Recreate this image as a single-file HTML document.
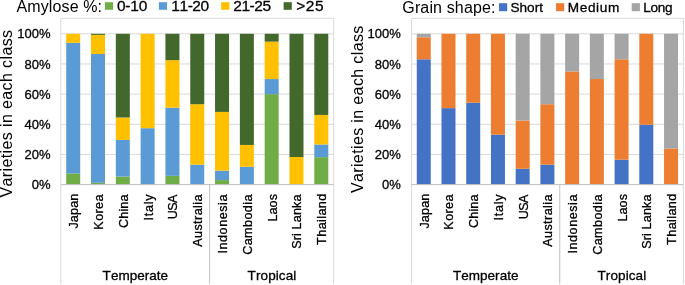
<!DOCTYPE html>
<html><head><meta charset="utf-8"><style>
html,body{margin:0;padding:0;background:#fff;}
body{width:685px;height:285px;overflow:hidden;}
svg{display:block;font-family:"Liberation Sans", sans-serif;font-kerning:none;will-change:transform;}
text{stroke:#000;stroke-width:0.3px;}
text.a{stroke:none;}
</style></head><body>
<svg width="685" height="285" viewBox="0 0 685 285">
<rect width="685" height="285" fill="#fff"/>
<line x1="60.8" y1="154.44" x2="333.7" y2="154.44" stroke="#D9D9D9" stroke-width="1"/>
<line x1="60.8" y1="124.28" x2="333.7" y2="124.28" stroke="#D9D9D9" stroke-width="1"/>
<line x1="60.8" y1="94.12" x2="333.7" y2="94.12" stroke="#D9D9D9" stroke-width="1"/>
<line x1="60.8" y1="63.96" x2="333.7" y2="63.96" stroke="#D9D9D9" stroke-width="1"/>
<line x1="60.8" y1="33.80" x2="333.7" y2="33.80" stroke="#D9D9D9" stroke-width="1"/>
<line x1="60.8" y1="18.4" x2="333.7" y2="18.4" stroke="#D9D9D9" stroke-width="1"/>
<line x1="60.8" y1="18.4" x2="60.8" y2="284" stroke="#D9D9D9" stroke-width="1"/>
<line x1="333.7" y1="18.4" x2="333.7" y2="284" stroke="#D9D9D9" stroke-width="1"/>
<rect x="66.20" y="173.44" width="14.0" height="11.16" fill="#70AD47"/>
<rect x="66.20" y="42.85" width="14.0" height="130.59" fill="#5B9BD5"/>
<rect x="66.20" y="33.80" width="14.0" height="9.05" fill="#FFC000"/>
<rect x="91.01" y="182.79" width="14.0" height="1.81" fill="#70AD47"/>
<rect x="91.01" y="54.01" width="14.0" height="128.78" fill="#5B9BD5"/>
<rect x="91.01" y="34.86" width="14.0" height="19.15" fill="#FFC000"/>
<rect x="91.01" y="33.80" width="14.0" height="1.06" fill="#43682B"/>
<rect x="115.82" y="176.61" width="14.0" height="7.99" fill="#70AD47"/>
<rect x="115.82" y="139.96" width="14.0" height="36.64" fill="#5B9BD5"/>
<rect x="115.82" y="117.49" width="14.0" height="22.47" fill="#FFC000"/>
<rect x="115.82" y="33.80" width="14.0" height="83.69" fill="#43682B"/>
<rect x="140.63" y="128.20" width="14.0" height="56.40" fill="#5B9BD5"/>
<rect x="140.63" y="33.80" width="14.0" height="94.40" fill="#FFC000"/>
<rect x="165.44" y="175.85" width="14.0" height="8.75" fill="#70AD47"/>
<rect x="165.44" y="107.69" width="14.0" height="68.16" fill="#5B9BD5"/>
<rect x="165.44" y="60.19" width="14.0" height="47.50" fill="#FFC000"/>
<rect x="165.44" y="33.80" width="14.0" height="26.39" fill="#43682B"/>
<rect x="190.25" y="164.69" width="14.0" height="19.91" fill="#5B9BD5"/>
<rect x="190.25" y="104.22" width="14.0" height="60.47" fill="#FFC000"/>
<rect x="190.25" y="33.80" width="14.0" height="70.42" fill="#43682B"/>
<rect x="215.06" y="180.08" width="14.0" height="4.52" fill="#70AD47"/>
<rect x="215.06" y="170.73" width="14.0" height="9.35" fill="#5B9BD5"/>
<rect x="215.06" y="111.91" width="14.0" height="58.81" fill="#FFC000"/>
<rect x="215.06" y="33.80" width="14.0" height="78.11" fill="#43682B"/>
<rect x="239.87" y="166.81" width="14.0" height="17.79" fill="#5B9BD5"/>
<rect x="239.87" y="144.94" width="14.0" height="21.87" fill="#FFC000"/>
<rect x="239.87" y="33.80" width="14.0" height="111.14" fill="#43682B"/>
<rect x="264.68" y="94.12" width="14.0" height="90.48" fill="#70AD47"/>
<rect x="264.68" y="79.04" width="14.0" height="15.08" fill="#5B9BD5"/>
<rect x="264.68" y="41.64" width="14.0" height="37.40" fill="#FFC000"/>
<rect x="264.68" y="33.80" width="14.0" height="7.84" fill="#43682B"/>
<rect x="289.49" y="157.00" width="14.0" height="27.60" fill="#FFC000"/>
<rect x="289.49" y="33.80" width="14.0" height="123.20" fill="#43682B"/>
<rect x="314.30" y="157.15" width="14.0" height="27.45" fill="#70AD47"/>
<rect x="314.30" y="144.49" width="14.0" height="12.67" fill="#5B9BD5"/>
<rect x="314.30" y="114.93" width="14.0" height="29.56" fill="#FFC000"/>
<rect x="314.30" y="33.80" width="14.0" height="81.13" fill="#43682B"/>
<line x1="60.8" y1="184.6" x2="333.7" y2="184.6" stroke="#BFBFBF" stroke-width="1"/>
<line x1="209.65" y1="184.6" x2="209.65" y2="284" stroke="#BFBFBF" stroke-width="1"/>
<text x="31.77" y="189.20" style="font-size:13px;letter-spacing:0.000px" fill="#000000">0%</text>
<text x="24.54" y="159.04" style="font-size:13px;letter-spacing:0.000px" fill="#000000">20%</text>
<text x="24.54" y="128.88" style="font-size:13px;letter-spacing:0.000px" fill="#000000">40%</text>
<text x="24.54" y="98.72" style="font-size:13px;letter-spacing:0.000px" fill="#000000">60%</text>
<text x="24.54" y="68.56" style="font-size:13px;letter-spacing:0.000px" fill="#000000">80%</text>
<text x="17.31" y="38.40" style="font-size:13px;letter-spacing:0.000px" fill="#000000">100%</text>
<text class="c" transform="translate(78.20,228.60) rotate(-90)" style="font-size:12.6px;letter-spacing:0.146px" fill="#000000">Japan</text>
<text class="c" transform="translate(103.01,229.63) rotate(-90)" style="font-size:12.6px;letter-spacing:0.378px" fill="#000000">Korea</text>
<text class="c" transform="translate(127.82,227.94) rotate(-90)" style="font-size:12.6px;letter-spacing:0.130px" fill="#000000">China</text>
<text class="c" transform="translate(152.63,220.56) rotate(-90)" style="font-size:12.6px;letter-spacing:0.745px" fill="#000000">Italy</text>
<text class="c" transform="translate(177.44,219.27) rotate(-90)" style="font-size:12.6px;letter-spacing:-0.555px" fill="#000000">USA</text>
<text class="c" transform="translate(202.25,246.82) rotate(-90)" style="font-size:12.6px;letter-spacing:0.413px" fill="#000000">Australia</text>
<text class="c" transform="translate(227.06,253.56) rotate(-90)" style="font-size:12.6px;letter-spacing:0.552px" fill="#000000">Indonesia</text>
<text class="c" transform="translate(251.87,254.84) rotate(-90)" style="font-size:12.6px;letter-spacing:0.415px" fill="#000000">Cambodia</text>
<text class="c" transform="translate(276.68,221.53) rotate(-90)" style="font-size:12.6px;letter-spacing:0.055px" fill="#000000">Laos</text>
<text class="c" transform="translate(301.49,248.87) rotate(-90)" style="font-size:12.6px;letter-spacing:0.143px" fill="#000000">Sri Lanka</text>
<text class="c" transform="translate(326.30,244.88) rotate(-90)" style="font-size:12.6px;letter-spacing:0.409px" fill="#000000">Thailand</text>
<text class="c" x="102.62" y="279.80" style="font-size:13.5px;letter-spacing:0.028px" fill="#000000">Temperate</text>
<text class="c" x="247.62" y="279.80" style="font-size:13.5px;letter-spacing:0.099px" fill="#000000">Tropical</text>
<text class="a" transform="translate(11.90,197.47) rotate(-90)" style="font-size:16px;letter-spacing:0.380px" fill="#000000">Varieties in each class</text>
<line x1="411.4" y1="154.44" x2="683.4" y2="154.44" stroke="#D9D9D9" stroke-width="1"/>
<line x1="411.4" y1="124.28" x2="683.4" y2="124.28" stroke="#D9D9D9" stroke-width="1"/>
<line x1="411.4" y1="94.12" x2="683.4" y2="94.12" stroke="#D9D9D9" stroke-width="1"/>
<line x1="411.4" y1="63.96" x2="683.4" y2="63.96" stroke="#D9D9D9" stroke-width="1"/>
<line x1="411.4" y1="33.80" x2="683.4" y2="33.80" stroke="#D9D9D9" stroke-width="1"/>
<line x1="411.4" y1="18.4" x2="683.4" y2="18.4" stroke="#D9D9D9" stroke-width="1"/>
<line x1="411.4" y1="18.4" x2="411.4" y2="284" stroke="#D9D9D9" stroke-width="1"/>
<line x1="683.4" y1="18.4" x2="683.4" y2="284" stroke="#D9D9D9" stroke-width="1"/>
<rect x="416.76" y="59.29" width="14.0" height="125.31" fill="#4472C4"/>
<rect x="416.76" y="37.27" width="14.0" height="22.02" fill="#ED7D31"/>
<rect x="416.76" y="33.80" width="14.0" height="3.47" fill="#A5A5A5"/>
<rect x="441.49" y="108.14" width="14.0" height="76.46" fill="#4472C4"/>
<rect x="441.49" y="33.80" width="14.0" height="74.34" fill="#ED7D31"/>
<rect x="466.22" y="102.72" width="14.0" height="81.88" fill="#4472C4"/>
<rect x="466.22" y="33.80" width="14.0" height="68.92" fill="#ED7D31"/>
<rect x="490.95" y="134.69" width="14.0" height="49.91" fill="#4472C4"/>
<rect x="490.95" y="33.80" width="14.0" height="100.89" fill="#ED7D31"/>
<rect x="515.67" y="168.77" width="14.0" height="15.83" fill="#4472C4"/>
<rect x="515.67" y="120.51" width="14.0" height="48.26" fill="#ED7D31"/>
<rect x="515.67" y="33.80" width="14.0" height="86.71" fill="#A5A5A5"/>
<rect x="540.40" y="164.69" width="14.0" height="19.91" fill="#4472C4"/>
<rect x="540.40" y="104.22" width="14.0" height="60.47" fill="#ED7D31"/>
<rect x="540.40" y="33.80" width="14.0" height="70.42" fill="#A5A5A5"/>
<rect x="565.13" y="71.50" width="14.0" height="113.10" fill="#ED7D31"/>
<rect x="565.13" y="33.80" width="14.0" height="37.70" fill="#A5A5A5"/>
<rect x="589.85" y="79.04" width="14.0" height="105.56" fill="#ED7D31"/>
<rect x="589.85" y="33.80" width="14.0" height="45.24" fill="#A5A5A5"/>
<rect x="614.58" y="159.72" width="14.0" height="24.88" fill="#4472C4"/>
<rect x="614.58" y="59.29" width="14.0" height="100.43" fill="#ED7D31"/>
<rect x="614.58" y="33.80" width="14.0" height="25.49" fill="#A5A5A5"/>
<rect x="639.31" y="124.73" width="14.0" height="59.87" fill="#4472C4"/>
<rect x="639.31" y="33.80" width="14.0" height="90.93" fill="#ED7D31"/>
<rect x="664.04" y="148.56" width="14.0" height="36.04" fill="#ED7D31"/>
<rect x="664.04" y="33.80" width="14.0" height="114.76" fill="#A5A5A5"/>
<line x1="411.4" y1="184.6" x2="683.4" y2="184.6" stroke="#BFBFBF" stroke-width="1"/>
<line x1="559.76" y1="184.6" x2="559.76" y2="284" stroke="#BFBFBF" stroke-width="1"/>
<text x="381.97" y="189.20" style="font-size:13px;letter-spacing:0.000px" fill="#000000">0%</text>
<text x="374.74" y="159.04" style="font-size:13px;letter-spacing:0.000px" fill="#000000">20%</text>
<text x="374.74" y="128.88" style="font-size:13px;letter-spacing:0.000px" fill="#000000">40%</text>
<text x="374.74" y="98.72" style="font-size:13px;letter-spacing:0.000px" fill="#000000">60%</text>
<text x="374.74" y="68.56" style="font-size:13px;letter-spacing:0.000px" fill="#000000">80%</text>
<text x="367.51" y="38.40" style="font-size:13px;letter-spacing:0.000px" fill="#000000">100%</text>
<text class="c" transform="translate(428.76,228.60) rotate(-90)" style="font-size:12.6px;letter-spacing:0.146px" fill="#000000">Japan</text>
<text class="c" transform="translate(453.49,229.63) rotate(-90)" style="font-size:12.6px;letter-spacing:0.378px" fill="#000000">Korea</text>
<text class="c" transform="translate(478.22,227.94) rotate(-90)" style="font-size:12.6px;letter-spacing:0.130px" fill="#000000">China</text>
<text class="c" transform="translate(502.95,220.56) rotate(-90)" style="font-size:12.6px;letter-spacing:0.745px" fill="#000000">Italy</text>
<text class="c" transform="translate(527.67,219.27) rotate(-90)" style="font-size:12.6px;letter-spacing:-0.555px" fill="#000000">USA</text>
<text class="c" transform="translate(552.40,246.82) rotate(-90)" style="font-size:12.6px;letter-spacing:0.413px" fill="#000000">Australia</text>
<text class="c" transform="translate(577.13,253.56) rotate(-90)" style="font-size:12.6px;letter-spacing:0.552px" fill="#000000">Indonesia</text>
<text class="c" transform="translate(601.85,254.84) rotate(-90)" style="font-size:12.6px;letter-spacing:0.415px" fill="#000000">Cambodia</text>
<text class="c" transform="translate(626.58,221.53) rotate(-90)" style="font-size:12.6px;letter-spacing:0.055px" fill="#000000">Laos</text>
<text class="c" transform="translate(651.31,248.87) rotate(-90)" style="font-size:12.6px;letter-spacing:0.143px" fill="#000000">Sri Lanka</text>
<text class="c" transform="translate(676.04,244.88) rotate(-90)" style="font-size:12.6px;letter-spacing:0.409px" fill="#000000">Thailand</text>
<text class="c" x="452.98" y="279.80" style="font-size:13.5px;letter-spacing:0.028px" fill="#000000">Temperate</text>
<text class="c" x="597.53" y="279.80" style="font-size:13.5px;letter-spacing:0.099px" fill="#000000">Tropical</text>
<text class="a" transform="translate(362.70,193.07) rotate(-90)" style="font-size:16px;letter-spacing:0.371px" fill="#000000">Varieties in each class</text>
<text class="a" x="16.57" y="11.80" style="font-size:16px;letter-spacing:0.103px" fill="#000000">Amylose %:</text>
<rect x="104.9" y="2.2" width="8.2" height="7.6" fill="#70AD47"/>
<text class="c" x="116.89" y="11.00" style="font-size:15.5px;letter-spacing:-0.204px" fill="#000000">0-10</text>
<rect x="158.9" y="2.2" width="8.2" height="7.6" fill="#5B9BD5"/>
<text class="c" x="171.32" y="11.00" style="font-size:15.5px;letter-spacing:-0.464px" fill="#000000">11-20</text>
<rect x="221.2" y="2.2" width="8.2" height="7.6" fill="#FFC000"/>
<text class="c" x="233.22" y="11.00" style="font-size:15.5px;letter-spacing:-0.428px" fill="#000000">21-25</text>
<rect x="283.6" y="2.2" width="8.2" height="7.6" fill="#43682B"/>
<text class="c" x="296.24" y="11.00" style="font-size:15.5px;letter-spacing:0.511px" fill="#000000">>25</text>
<text class="a" x="402.30" y="12.70" style="font-size:16px;letter-spacing:0.141px" fill="#000000">Grain shape:</text>
<rect x="499.0" y="3.2" width="8.2" height="8.0" fill="#4472C4"/>
<text class="c" x="510.38" y="11.80" style="font-size:13.6px;letter-spacing:0.053px" fill="#000000">Short</text>
<rect x="556.0" y="3.2" width="8.2" height="8.0" fill="#ED7D31"/>
<text class="c" x="567.78" y="11.80" style="font-size:13.6px;letter-spacing:0.628px" fill="#000000">Medium</text>
<rect x="631.7" y="3.2" width="8.2" height="8.0" fill="#A5A5A5"/>
<text class="c" x="643.18" y="11.80" style="font-size:13.6px;letter-spacing:-0.287px" fill="#000000">Long</text>
</svg>
</body></html>
